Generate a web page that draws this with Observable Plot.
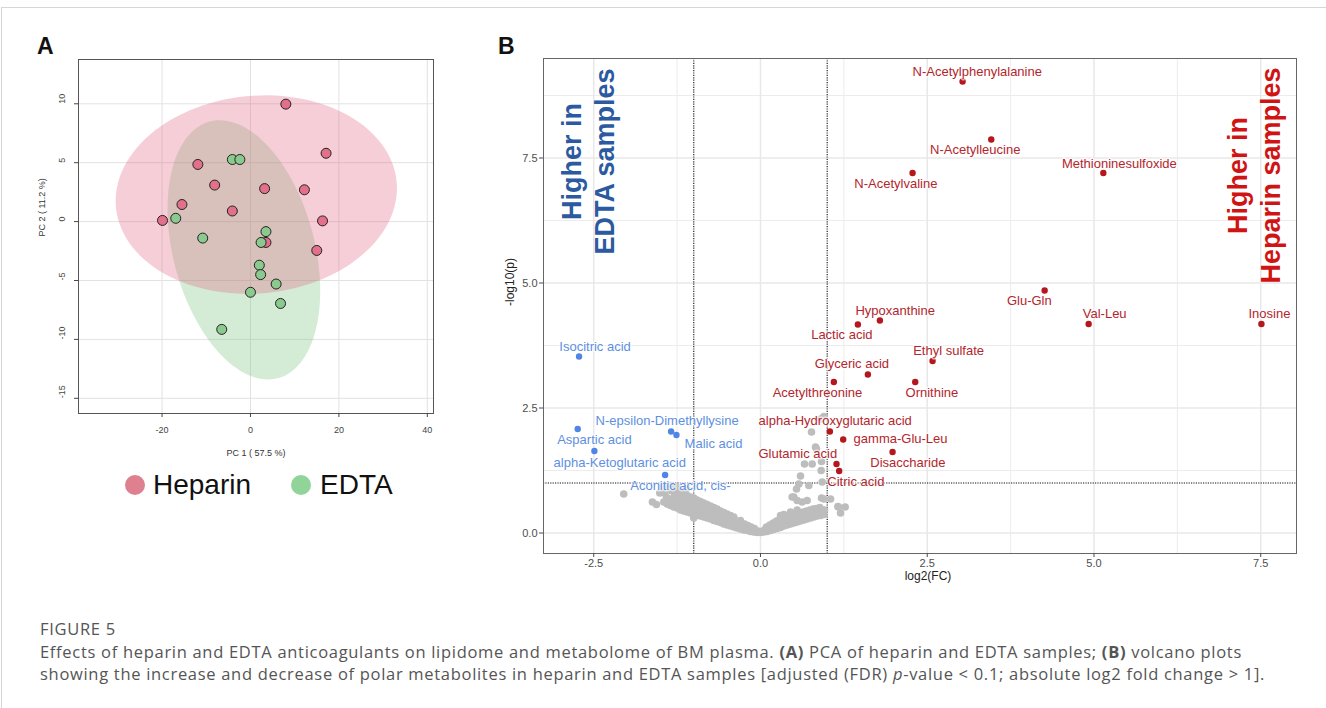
<!DOCTYPE html>
<html><head><meta charset="utf-8">
<script src="https://cdn.jsdelivr.net/npm/d3@7"></script>
<script src="https://cdn.jsdelivr.net/npm/@observablehq/plot@0.6"></script>
<style>
body{margin:0;background:#fff;width:1326px;height:708px;overflow:hidden;position:relative;font-family:"Liberation Sans",Arial,sans-serif;}
.abs{position:absolute;white-space:nowrap;}
.cap{font-family:"Open Sans",Lato,sans-serif;color:#555;font-size:16.5px;letter-spacing:0.7px;}
</style></head><body>
<div class="abs" style="left:1px;top:7px;width:1325px;height:701px;border-top:1px solid #d6d6d6;border-left:1px solid #d6d6d6;box-sizing:border-box"></div>
<div id="pA" class="abs" style="left:0;top:0"></div>
<div id="pB" class="abs" style="left:480px;top:0"></div>
<div class="abs" style="left:37px;top:33px;font-weight:bold;font-size:23px;color:#111">A</div>
<div class="abs" style="left:498px;top:33px;font-weight:bold;font-size:23px;color:#111">B</div>
<div id="legend"></div>
<div class="abs cap" style="left:40px;top:617px;">FIGURE 5</div>
<div class="abs cap" style="left:40px;top:640px;">Effects of heparin and EDTA anticoagulants on lipidome and metabolome of BM plasma. <b>(A)</b> PCA of heparin and EDTA samples; <b>(B)</b> volcano plots</div>
<div class="abs cap" style="left:40px;top:662px;">showing the increase and decrease of polar metabolites in heparin and EDTA samples [adjusted (FDR) <i>p</i>-value &lt; 0.1; absolute log2 fold change &gt; 1].</div>
<script>
// ---------- Panel A data (PCA scores) ----------
const groups = ["Heparin", "EDTA"];
const heparinPC1 = [8.0, 17.1, -11.9, -8.1, 3.2, 12.2, -15.5, -4.1, -19.9, 16.3, 3.5, 15.0];
const heparinPC2 = [9.97, 5.8, 4.85, 3.1, 2.8, 2.7, 1.45, 0.9, 0.1, 0.06, -1.77, -2.45];
const edtaPC1 = [-4.1, -2.4, -16.9, -10.8, 3.5, 2.4, 2.0, 2.3, 5.8, 0.0, 6.8, -6.5];
const edtaPC2 = [5.27, 5.27, 0.28, -1.4, -0.85, -1.77, -3.7, -4.5, -5.3, -6.0, -6.95, -9.15];
const pcaTicksX = [-20, 0, 20, 40];
const pcaTicksY = [-15, -10, -5, 0, 5, 10];

// ---------- Panel B data (volcano) ----------
const redNames = ["N-Acetylphenylalanine","N-Acetylleucine","N-Acetylvaline","Methioninesulfoxide","Glu-Gln","Val-Leu","Inosine","Hypoxanthine","Lactic acid","Ethyl sulfate","Glyceric acid","Acetylthreonine","Ornithine","alpha-Hydroxyglutaric acid","gamma-Glu-Leu","Disaccharide","Glutamic acid","Citric acid"];
const redFC = [3.03, 3.46, 2.28, 5.14, 4.26, 4.92, 7.51, 1.79, 1.46, 2.58, 1.61, 1.10, 2.32, 1.04, 1.24, 1.98, 1.14, 1.18];
const redP  = [9.03, 7.87, 7.20, 7.20, 4.85, 4.18, 4.18, 4.25, 4.17, 3.44, 3.17, 3.02, 3.02, 2.03, 1.87, 1.62, 1.38, 1.24];
const redLabelFC = [3.25, 3.22, 2.03, 5.38, 4.03, 5.16, 7.63, 2.02, 1.22, 2.82, 1.37, 0.855, 2.57, 1.12, 2.10, 2.21, 0.56, 1.43];
const redLabelP  = [9.23, 7.66, 6.99, 7.38, 4.65, 4.38, 4.38, 4.45, 3.96, 3.64, 3.39, 2.80, 2.80, 2.25, 1.89, 1.41, 1.59, 1.03];

const blueNames = ["Isocitric acid","Aspartic acid","alpha-Ketoglutaric acid","N-epsilon-Dimethyllysine","Malic acid","Aconitic acid, cis-"];
const blueFC = [-2.72, -2.74, -2.49, -1.34, -1.26, -1.43];
const blueP  = [3.53, 2.08, 1.64, 2.03, 1.96, 1.16];
const blueLabelFC = [-2.48, -2.49, -2.11, -1.40, -0.705, -1.20];
const blueLabelP  = [3.73, 1.87, 1.41, 2.25, 1.79, 0.95];

const grayFC = [-2.05,-1.62,-1.56,-1.51,-1.00,-1.25,-1.11,
 -1.45,-1.44,-1.46,-1.40,-1.41,-1.39,-1.35,-1.36,-1.34,-1.35,-1.30,-1.31,-1.29,-1.30,-1.25,-1.26,-1.24,-1.25,
 -1.20,-1.21,-1.19,-1.20,-1.15,-1.16,-1.14,-1.15,-1.10,-1.11,-1.09,-1.10,-1.05,-1.06,-1.04,-1.05,-1.00,-1.01,-0.99,-1.00,
 -0.95,-0.96,-0.94,-0.95,-0.90,-0.91,-0.89,-0.90,-0.85,-0.86,-0.84,-0.85,-0.80,-0.81,-0.79,-0.80,-0.75,-0.76,-0.74,-0.75,
 -0.70,-0.71,-0.69,-0.70,-0.65,-0.66,-0.64,-0.65,-0.60,-0.61,-0.59,-0.60,-0.55,-0.56,-0.54,-0.55,-0.50,-0.51,-0.49,-0.50,
 -0.45,-0.46,-0.44,-0.45,-0.40,-0.41,-0.39,-0.40,-0.35,-0.36,-0.34,-0.30,-0.31,-0.29,-0.30,-0.25,-0.26,-0.24,-0.20,-0.21,-0.19,
 -0.15,-0.16,-0.14,-0.10,-0.11,-0.09,-0.05,-0.04,0.00,0.01,
 0.05,0.06,0.10,0.11,0.09,0.15,0.16,0.14,0.20,0.21,0.19,0.25,0.26,0.24,0.30,0.31,0.29,0.30,0.35,0.36,0.34,0.35,
 0.40,0.41,0.39,0.45,0.46,0.44,0.45,0.50,0.51,0.49,0.55,0.56,0.54,0.55,0.60,0.61,0.59,0.65,0.66,0.64,0.70,0.71,0.69,
 0.75,0.76,0.74,0.80,0.81,0.79,0.85,0.86,0.84,0.90,0.91,0.89,0.95,0.96,
 0.95,0.90,0.765,0.825,0.84,0.66,0.775,0.915,0.91,0.60,0.575,0.725,0.925,0.54,0.475,0.55,0.625,0.70,0.95,1.05,1.16,1.20,1.27,1.17,0.915,0.50];
const grayP = [0.78,0.62,0.57,0.80,0.30,0.92,0.89,
 0.62,0.80,0.93,0.58,0.72,0.88,0.55,0.68,0.85,0.95,0.52,0.64,0.78,0.90,0.50,0.62,0.74,0.86,
 0.46,0.58,0.70,0.82,0.44,0.55,0.66,0.78,0.42,0.52,0.63,0.75,0.40,0.50,0.60,0.72,0.38,0.48,0.58,0.70,
 0.36,0.46,0.56,0.66,0.34,0.44,0.54,0.63,0.32,0.42,0.51,0.60,0.30,0.40,0.48,0.57,0.28,0.37,0.46,0.54,
 0.25,0.34,0.43,0.51,0.23,0.31,0.40,0.48,0.21,0.29,0.37,0.44,0.18,0.26,0.34,0.41,0.16,0.24,0.31,0.38,
 0.14,0.21,0.28,0.35,0.12,0.19,0.26,0.32,0.10,0.16,0.23,0.08,0.14,0.20,0.25,0.06,0.12,0.18,0.05,0.10,0.15,
 0.03,0.08,0.12,0.02,0.05,0.09,0.01,0.04,0.01,0.03,
 0.02,0.06,0.03,0.08,0.12,0.05,0.11,0.16,0.07,0.14,0.20,0.09,0.17,0.24,0.11,0.19,0.27,0.35,0.14,0.22,0.30,0.37,
 0.16,0.24,0.32,0.18,0.26,0.34,0.42,0.20,0.28,0.36,0.22,0.30,0.38,0.46,0.24,0.32,0.40,0.26,0.34,0.42,0.28,0.36,0.44,
 0.30,0.38,0.46,0.32,0.40,0.48,0.34,0.42,0.49,0.35,0.43,0.51,0.37,0.46,
 2.33,2.28,2.02,1.72,1.68,1.38,1.38,1.43,1.25,1.14,0.98,0.95,1.02,0.88,0.72,0.65,0.62,0.65,0.68,0.68,0.53,0.40,0.52,0.52,0.70,0.72];

const volcanoTicksX = [-2.5, 0, 2.5, 5, 7.5];
const volcanoTicksY = [0, 2.5, 5, 7.5];
const volcanoMinorX = [-1.25, 1.25, 3.75, 6.25];
const volcanoMinorY = [1.25, 3.75, 6.25, 8.75];
const fcThresholds = [-1, 1];
const pThreshold = [1];
const sideNotes = [
  {text: "Higher in\nEDTA samples", fc: -2.6, p: 7.43, color: "#2b5aa0"},
  {text: "Higher in\nHeparin samples", fc: 7.39, p: 7.15, color: "#d01414"}
];

// ---------- helpers ----------
function confEllipse(xs, ys) {
  const n = xs.length, mx = d3.mean(xs), my = d3.mean(ys);
  const sx = d3.deviation(xs), sy = d3.deviation(ys);
  let c = 0; for (let i = 0; i < n; i++) c += (xs[i]-mx)*(ys[i]-my);
  c /= (n-1);
  const r = c/(sx*sy), t = Math.sqrt(-2*Math.log(0.05)), dd = Math.acos(r);
  return d3.range(0, 361, 3).map(a => {
    const th = a*Math.PI/180;
    return {x: mx + t*sx*Math.cos(th + dd/2), y: my + t*sy*Math.cos(th - dd/2)};
  });
}
const hep = heparinPC1.map((x,i)=>({x, y: heparinPC2[i]}));
const edt = edtaPC1.map((x,i)=>({x, y: edtaPC2[i]}));
const hepEll = confEllipse(heparinPC1, heparinPC2);
const edtEll = confEllipse(edtaPC1, edtaPC2);

const pinkPt = "#e2708a", greenPt = "#8cc98f";
const pA = Plot.plot({
  width: 470, height: 470,
  marginLeft: 78, marginRight: 37, marginTop: 59, marginBottom: 57,
  style: {fontFamily: "Liberation Sans, Arial, sans-serif", background: "transparent", color: "#444"},
  x: {domain: [-38.9, 41.4]},
  y: {domain: [-16.29, 13.76]},
  marks: [
    Plot.gridX(pcaTicksX, {stroke: "#e2e2e2", strokeOpacity: 1}),
    Plot.gridY(pcaTicksY, {stroke: "#e2e2e2", strokeOpacity: 1}),
    Plot.line(edtEll, {x: "x", y: "y", fill: "#70c076", fillOpacity: 0.3, stroke: "none", curve: "linear-closed"}),
    Plot.line(hepEll, {x: "x", y: "y", fill: "#e15c7d", fillOpacity: 0.3, stroke: "none", curve: "linear-closed"}),
    Plot.dot(hep, {x: "x", y: "y", r: 5, fill: pinkPt, stroke: "#222", strokeWidth: 1}),
    Plot.dot(edt, {x: "x", y: "y", r: 5, fill: greenPt, stroke: "#222", strokeWidth: 1}),
    Plot.frame({stroke: "#555"}),
    Plot.axisX({ticks: pcaTicksX, tickFormat: d => String(d), tickSize: 4, tickPadding: 9, fontSize: 9, label: null}),
    Plot.axisY({ticks: pcaTicksY, tickFormat: () => "", tickSize: 4, label: null}),
    Plot.text(pcaTicksY, {y: d => d, text: d => String(d), frameAnchor: "left", dx: -16, rotate: -90, fontSize: 9, fill: "#444"}),
    Plot.text(["PC 2 ( 11.2 %)"], {text: d => d, frameAnchor: "left", dx: -36, rotate: -90, fontSize: 9, fill: "#333"}),
    Plot.text(["PC 1 ( 57.5 %)"], {text: d => d, frameAnchor: "bottom", dy: 42, fontSize: 9, fill: "#333"})
  ]
});
document.getElementById("pA").append(pA);

// legend
const leg = document.getElementById("legend");
const legItems = [{g: groups[0], c: "#de808f", cx: 135, tx: 153}, {g: groups[1], c: "#90d49a", cx: 301, tx: 320}];
legItems.forEach(it => {
  const dot = document.createElement("div");
  dot.className = "abs";
  dot.style.cssText = `left:${it.cx-10}px;top:475px;width:20px;height:20px;border-radius:50%;background:${it.c}`;
  leg.append(dot);
  const t = document.createElement("div");
  t.className = "abs";
  t.style.cssText = `left:${it.tx}px;top:469px;font-size:28px;line-height:32px;color:#111`;
  t.textContent = it.g;
  leg.append(t);
});

// volcano
const gray = grayFC.map((x,i)=>({x, y: grayP[i]}));
const red = redNames.map((n,i)=>({n, x: redFC[i], y: redP[i], lx: redLabelFC[i], ly: redLabelP[i]}));
const blue = blueNames.map((n,i)=>({n, x: blueFC[i], y: blueP[i], lx: blueLabelFC[i], ly: blueLabelP[i]}));
const redTxt = "#b3262c", blueTxt = "#5e90e2";
const fmt = d => d.toFixed(1);
const pB = Plot.plot({
  width: 846, height: 600,
  marginLeft: 63, marginRight: 30, marginTop: 58, marginBottom: 47,
  style: {fontFamily: "Liberation Sans, Arial, sans-serif", background: "transparent", color: "#4d4d4d"},
  x: {domain: [-3.253, 8.036]},
  y: {domain: [-0.41, 9.49]},
  marks: [
    Plot.gridX(volcanoMinorX, {stroke: "#ececec", strokeOpacity: 1, strokeWidth: 1}),
    Plot.gridY(volcanoMinorY, {stroke: "#ececec", strokeOpacity: 1, strokeWidth: 1}),
    Plot.gridX(volcanoTicksX, {stroke: "#e8e8e8", strokeOpacity: 1, strokeWidth: 1.5}),
    Plot.gridY(volcanoTicksY, {stroke: "#e8e8e8", strokeOpacity: 1, strokeWidth: 1.5}),
    Plot.ruleX(fcThresholds, {stroke: "#111", strokeDasharray: "1.2,1.2", strokeWidth: 1.1}),
    Plot.ruleY(pThreshold, {stroke: "#111", strokeDasharray: "1.2,1.2", strokeWidth: 1.1}),
    Plot.dot(gray, {x: "x", y: "y", r: 3.8, fill: "#bdbdbd"}),
    Plot.dot(blue, {x: "x", y: "y", r: 3.2, fill: "#4f86e6"}),
    Plot.dot(red, {x: "x", y: "y", r: 3.2, fill: "#b5171d"}),
    Plot.text(blue, {x: "lx", y: "ly", text: "n", fill: blueTxt, fontSize: 13, stroke: "white", strokeWidth: 3, strokeOpacity: 0.6}),
    Plot.text(red, {x: "lx", y: "ly", text: "n", fill: redTxt, fontSize: 13, stroke: "white", strokeWidth: 3, strokeOpacity: 0.6}),
    Plot.text(sideNotes, {x: "fc", y: "p", text: "text", fill: "color", rotate: -90, fontSize: 27, fontWeight: "bold", lineHeight: 1.22}),
    Plot.frame({stroke: "#666"}),
    Plot.axisX({ticks: volcanoTicksX, tickFormat: fmt, tickSize: 4, tickPadding: 2, fontSize: 11, label: null}),
    Plot.axisY({ticks: volcanoTicksY, tickFormat: fmt, tickSize: 4, tickPadding: 2, fontSize: 11, label: null}),
    Plot.text(["log2(FC)"], {text: d => d, frameAnchor: "bottom", dx: 8, dy: 26, fontSize: 12, fill: "#222"}),
    Plot.text(["-log10(p)"], {text: d => d, frameAnchor: "left", dx: -33, rotate: -90, fontSize: 12, fill: "#222"})
  ]
});
document.getElementById("pB").append(pB);
</script>
</body></html>
